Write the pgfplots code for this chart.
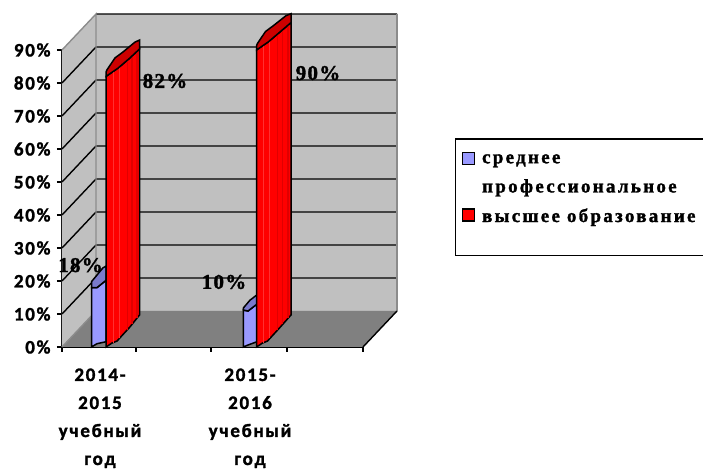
\documentclass[border=0pt]{standalone}
\usepackage{pgfplots}
\pgfplotsset{compat=1.18}
\usepackage{fontspec}
\setmainfont{Liberation Serif}
\newfontface\tickfont[LetterSpace=9,FakeBold=1.5]{Carlito Bold}
\newfontface\legfont[LetterSpace=12,FakeBold=1.5]{Liberation Serif Bold}
\newfontface\labfont[LetterSpace=6,FakeBold=1.5]{Liberation Serif Bold}
\definecolor{wallgray}{HTML}{C0C0C0}
\definecolor{floorgray}{HTML}{808080}
\definecolor{edgegray}{HTML}{8C8C8C}
\definecolor{blueface}{HTML}{9999FF}
\definecolor{bluetop}{HTML}{7A7ACC}
\definecolor{redtop}{HTML}{CC0000}
\definecolor{redlight}{HTML}{FF3030}
\definecolor{reddark}{HTML}{E00000}
\begin{document}
\begin{tikzpicture}
\useasboundingbox (-62pt,-123pt) rectangle (641pt,347pt);
\begin{axis}[
  scale only axis, x=1pt, y=3.3pt,
  xmin=62, xmax=363, ymin=0, ymax=90,
  clip=false,
  axis x line=bottom, axis y line=left,
  axis line style={-, line width=1.8pt, black},
  tick align=outside,
  major tick length=5pt,
  tick style={line width=1.4pt, black},
  xtick={62,136,211,287,363}, xticklabels={},
  extra x ticks={100,250},
  extra x tick labels={2014-\\2015\\учебный\\год,2015-\\2016\\учебный\\год},
  extra x tick style={major tick length=0pt,
    tick label style={align=center, yshift=-18pt,
      font=\tickfont\fontsize{19}{28}\selectfont}},
  ytick={0,10,...,90},
  yticklabels={0\%,10\%,20\%,30\%,40\%,50\%,60\%,70\%,80\%,90\%},
  y tick label style={xshift=-3pt, font=\tickfont\fontsize{19}{20}\selectfont},
  unbounded coords=jump,
  legend style={at={(axis cs:455,63.3)}, anchor=north west, draw=black,
    line width=1.4pt, font=\legfont\fontsize{19}{20}\selectfont,
    cells={anchor=west}, inner xsep=6pt, inner ysep=13pt,
    /tikz/every odd column/.append style={column sep=5pt},
    legend cell align=left, row sep=10.5pt},
  legend image code/.code={\draw[#1, line width=1.4pt] (0pt,-5pt) rectangle (12pt,7pt);},
]
% walls and floor
\addplot[forget plot, fill=wallgray, draw=none] coordinates {(62,0) (96,10.91) (96,100.91) (62,90)} --cycle;
\addplot[forget plot, fill=wallgray, draw=none] coordinates {(96,10.91) (397,10.91) (397,100.91) (96,100.91)} --cycle;
\addplot[forget plot, fill=floorgray, draw=none] coordinates {(62,0) (96,10.91) (397,10.91) (363,0)} --cycle;
% grid
\addplot[forget plot, black, line width=1.4pt] coordinates {
(62,10) (96,20.91) (397,20.91) (0,nan)
(62,20) (96,30.91) (397,30.91) (0,nan)
(62,30) (96,40.91) (397,40.91) (0,nan)
(62,40) (96,50.91) (397,50.91) (0,nan)
(62,50) (96,60.91) (397,60.91) (0,nan)
(62,60) (96,70.91) (397,70.91) (0,nan)
(62,70) (96,80.91) (397,80.91) (0,nan)
(62,80) (96,90.91) (397,90.91) (0,nan)
(96,100.91) (397,100.91)};
\addplot[forget plot, edgegray, line width=1.4pt] coordinates {(62,90) (96,100.91) (96,10.91) (62,0)};
\addplot[forget plot, edgegray, line width=1.4pt] coordinates {(397,100.91) (397,10.91)};
\addplot[forget plot, black, line width=1.4pt] coordinates {(363,0) (397,10.91)};
% first group
\addplot[fill=blueface, draw=black, line width=1.5pt] coordinates
 {(91.5,0) (97,1) (106,1.6) (106,20.2) (97,18) (91.5,18)} --cycle;
\addlegendentry{среднее}
\addlegendimage{empty legend}
\addlegendentry{профессиональное}
\addplot[fill=bluetop, draw=black, line width=1.5pt, forget plot] coordinates
 {(91.5,18) (97,18) (106,20.2) (106,24.5) (103,24) (91.5,19.8)} --cycle;
\addplot[fill=red, draw=black, line width=1.5pt] coordinates
 {(106,0) (112,1.2) (117,1.8) (130,6.1) (139.5,9.7) (139.5,90.3) (130,87.6) (118,84.5) (106,82)} --cycle;
\addlegendentry{высшее образование}
\addlegendimage{empty legend}
\addlegendentry{\fontsize{2}{2}\selectfont\phantom{x}}
\addplot[forget plot, redlight, line width=1pt] coordinates {(113,1.3) (113,83.6)};
\addplot[forget plot, redlight, line width=.8pt] coordinates {(119,2.6) (119,84.8)};
\addplot[forget plot, reddark, line width=1pt] coordinates {(127,5) (127,86.8)};
\addplot[forget plot, reddark, line width=1.2pt] coordinates {(132,6.9) (132,88.3)};
\addplot[forget plot, reddark, line width=2pt] coordinates {(137,8.9) (137,89.5)};
\addplot[forget plot, fill=redtop, draw=black, line width=1.5pt] coordinates
 {(106,82) (118,84.5) (130,87.6) (139.5,90.3) (139.5,93) (135,92.4) (123,89.4) (115,87.6) (107,84) (106,83.3)} --cycle;
% second group
\addplot[forget plot, fill=blueface, draw=black, line width=1.5pt] coordinates
 {(243.3,0) (248,0.6) (257,1.6) (257,13) (248,10.9) (243.3,11.2)} --cycle;
\addplot[forget plot, fill=bluetop, draw=black, line width=1.5pt] coordinates
 {(243.3,11.2) (248,10.9) (257,13) (257,15.8) (250,14.2) (243.3,11.8)} --cycle;
\addplot[forget plot, fill=red, draw=black, line width=1.5pt] coordinates
 {(256.5,0) (262.5,1.2) (267.5,1.8) (280.5,6.1) (291,9.7) (291,98.3) (280.5,95.6) (268.5,92.5) (256.5,90)} --cycle;
\addplot[forget plot, redlight, line width=1pt] coordinates {(263.5,1.3) (263.5,91.6)};
\addplot[forget plot, redlight, line width=.8pt] coordinates {(269.5,2.6) (269.5,92.8)};
\addplot[forget plot, reddark, line width=1pt] coordinates {(277.5,5) (277.5,94.8)};
\addplot[forget plot, reddark, line width=1.2pt] coordinates {(282.5,6.9) (282.5,96.3)};
\addplot[forget plot, reddark, line width=2pt] coordinates {(288,8.9) (288,97.5)};
\addplot[forget plot, fill=redtop, draw=black, line width=1.5pt] coordinates
 {(256.5,90) (268.5,92.5) (280.5,95.6) (291,98.3) (291,101) (286,100.4) (273.5,97.4) (265.5,95.6) (257.5,92) (256.5,91.3)} --cycle;
% value labels
\node[anchor=center, font=\labfont\fontsize{21}{22}\selectfont] at (axis cs:80.5,24.8) {18\%};
\node[anchor=center, font=\labfont\fontsize{21}{22}\selectfont] at (axis cs:224,19.7) {10\%};
\node[anchor=center, font=\labfont\fontsize{21}{22}\selectfont] at (axis cs:165,80.6) {82\%};
\node[anchor=center, font=\labfont\fontsize{21}{22}\selectfont] at (axis cs:318,83) {90\%};
\end{axis}
\end{tikzpicture}
\end{document}
